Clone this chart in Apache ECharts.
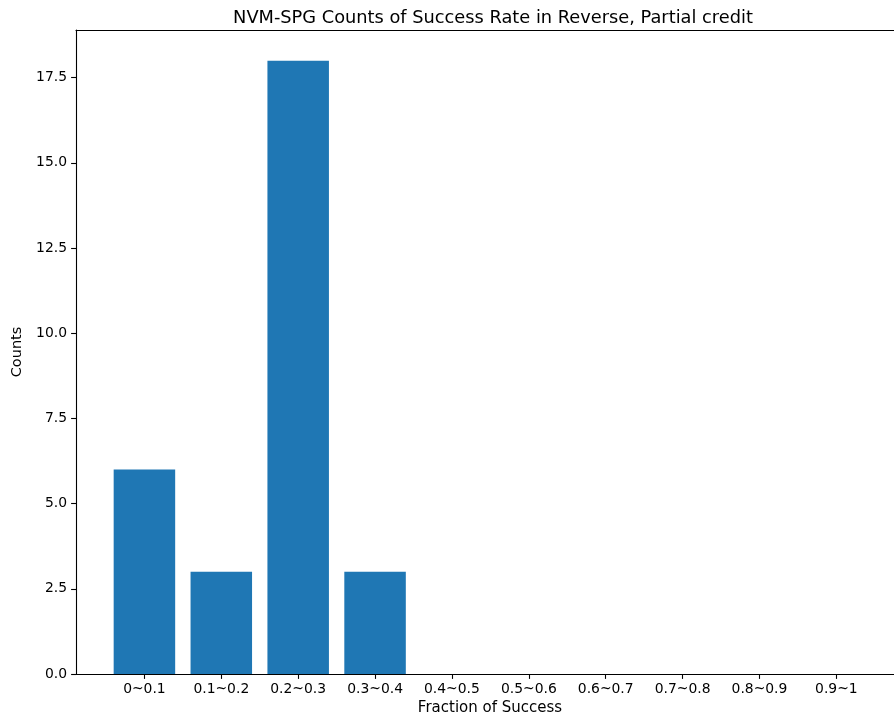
<!DOCTYPE html>
<html>
<head>
<meta charset="utf-8">
<script src="https://cdn.jsdelivr.net/npm/echarts@6/dist/echarts.min.js"></script>
<style>
  html, body { margin: 0; padding: 0; background: #fff; }
  #chart { width: 894px; height: 721px; }
</style>
</head>
<body>
<div id="chart"></div>
<script>
// Bins of the success fraction and how many runs fell into each
const categories = ['0~0.1', '0.1~0.2', '0.2~0.3', '0.3~0.4', '0.4~0.5',
                    '0.5~0.6', '0.6~0.7', '0.7~0.8', '0.8~0.9', '0.9~1'];
const counts = [6, 3, 18, 3, 0, 0, 0, 0, 0, 0];
const yTicks = [0, 2.5, 5, 7.5, 10, 12.5, 15, 17.5];

const FONT = 'DejaVu Sans';
const gridLeft = 76;
// the axes run a little past the right edge of the canvas
const xMin = -0.89, xMax = 9.75;
const gridWidth = 894 - gridLeft;
const unitPx = gridWidth / (xMax - xMin);
const idx = categories.map((_, i) => i);
const axisColor = '#000';

const chart = echarts.init(document.getElementById('chart'), null, { renderer: 'canvas' });
chart.setOption({
  animation: false,
  backgroundColor: '#fff',
  title: {
    text: 'NVM-SPG Counts of Success Rate in Reverse, Partial credit',
    left: 488,
    textAlign: 'center',
    top: 4,
    textStyle: { fontFamily: FONT, fontSize: 17.8, fontWeight: 'normal', color: '#000' }
  },
  grid: { left: gridLeft, top: 30, right: 0, bottom: 47 },
  xAxis: [{
    type: 'value',
    min: xMin,
    max: xMax,
    name: 'Fraction of Success',
    nameLocation: 'middle',
    nameGap: 27,
    nameTextStyle: { fontFamily: FONT, fontSize: 15, color: '#000', padding: [0, 0, 0, 10] },
    axisLine: { show: true, onZero: false, lineStyle: { color: axisColor, width: 1.1 } },
    axisTick: { show: true, length: 4.9, customValues: idx, lineStyle: { color: axisColor, width: 1.1 } },
    axisLabel: {
      customValues: idx,
      margin: 8,
      fontFamily: FONT, fontSize: 13.9, color: '#000',
      formatter: v => categories[Math.round(v)]
    },
    splitLine: { show: false }
  }, {
    // top spine
    type: 'value',
    position: 'top',
    min: xMin,
    max: xMax,
    axisLine: { show: true, onZero: false, lineStyle: { color: axisColor, width: 1.1 } },
    axisTick: { show: false },
    axisLabel: { show: false },
    splitLine: { show: false }
  }],
  yAxis: {
    type: 'value',
    min: 0,
    max: 18.9,
    name: 'Counts',
    nameLocation: 'middle',
    nameGap: 44,
    nameTextStyle: { fontFamily: FONT, fontSize: 14.5, color: '#000' },
    axisLine: { show: true, onZero: false, lineStyle: { color: axisColor, width: 1.1 } },
    axisTick: { show: true, length: 4.9, customValues: yTicks, lineStyle: { color: axisColor, width: 1.1 } },
    axisLabel: {
      customValues: yTicks,
      margin: 9,
      fontFamily: FONT, fontSize: 13.9, color: '#000',
      formatter: v => v.toFixed(1)
    },
    splitLine: { show: false }
  },
  series: [{
    type: 'bar',
    xAxisIndex: 0,
    data: counts.map((c, i) => [i, c]),
    barWidth: 0.8 * unitPx,
    itemStyle: { color: '#1f77b4' }
  }]
});
</script>
</body>
</html>
